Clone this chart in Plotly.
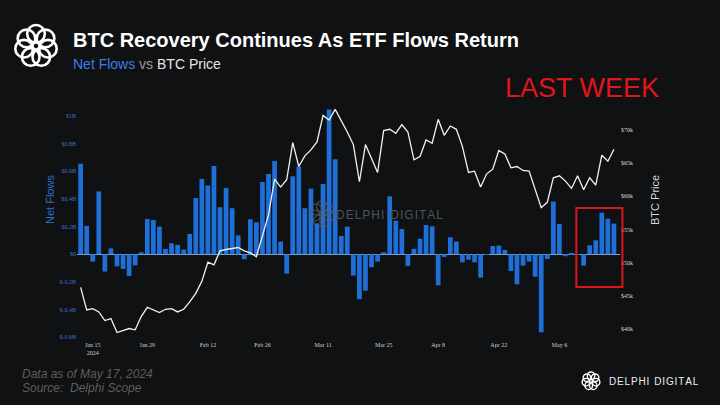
import math
import pandas as pd
import plotly.graph_objects as go

# ---------------------------------------------------------------------------
# Data: daily spot BTC ETF net flows ($B) and BTC close ($k), trading days
# Jan 11 2024 -> May 17 2024
# ---------------------------------------------------------------------------
holidays = ["2024-01-15", "2024-02-19", "2024-03-29"]
dates = [d for d in pd.bdate_range("2024-01-11", "2024-05-17").strftime("%Y-%m-%d")
         if d not in holidays]

net_flows = [0.655, 0.205, -0.053, 0.455, -0.125, 0.043, -0.087, -0.106, -0.157, -0.080,
             0.015, 0.255, 0.248, 0.200, 0.039, 0.080, 0.068, 0.034, 0.147, 0.407,
             0.545, 0.497, 0.639, 0.340, 0.480, 0.333, 0.137, -0.036, 0.253, 0.231,
             0.523, 0.581, 0.675, 0.092, -0.140, 0.564, 0.634, 0.333, 0.475, 0.224,
             0.508, 1.048, 0.687, 0.133, 0.200, -0.154, -0.325, -0.263, -0.094, -0.053,
             0.015, 0.419, 0.243, 0.183, -0.084, 0.039, 0.113, 0.212, 0.202, -0.224,
             -0.019, 0.123, 0.092, -0.058, -0.039, -0.058, -0.169, 0.002, 0.060, 0.063,
             0.031, -0.121, -0.217, -0.082, -0.053, -0.162, -0.564, -0.034, 0.381, 0.219,
             -0.014, 0.010, -0.005, -0.082, 0.065, 0.101, 0.301, 0.258, 0.222]

btc_price = [46.3, 42.9, 43.1, 42.6, 41.3, 41.6, 39.5, 39.8, 40.1, 39.9,
             41.9, 43.3, 42.9, 42.5, 43.0, 43.1, 42.6, 43.0, 44.1, 45.4,
             47.2, 50.1, 49.7, 51.8, 52.0, 52.1, 52.3, 51.8, 51.5, 50.9,
             54.2, 57.2, 62.6, 61.4, 62.5, 68.1, 64.5, 66.1, 67.0, 68.2,
             72.2, 71.5, 73.1, 71.5, 69.7, 67.8, 62.2, 67.8, 65.7, 63.6,
             69.9, 70.1, 69.5, 70.8, 69.7, 65.5, 66.0, 68.5, 68.0, 71.6,
             69.2, 70.6, 70.1, 67.5, 63.6, 63.8, 61.4, 63.4, 64.1, 66.9,
             66.4, 64.3, 64.5, 63.9, 63.8, 61.2, 58.3, 59.1, 62.8, 63.1,
             62.3, 61.2, 63.1, 61.0, 62.8, 61.7, 66.2, 65.3, 67.1]

x_tick_dates = ["2024-01-16", "2024-01-29", "2024-02-12", "2024-02-26", "2024-03-11",
                "2024-03-25", "2024-04-08", "2024-04-22", "2024-05-06"]
x_tick_text = ["Jan 15<br>2024", "Jan 29", "Feb 12", "Feb 26", "Mar 11",
               "Mar 25", "Apr 8", "Apr 22", "May 6"]

flow_ticks = [-0.6, -0.4, -0.2, 0, 0.2, 0.4, 0.6, 0.8, 1.0]
flow_tick_text = ["$-0.6B", "$-0.4B", "$-0.2B", "$0", "$0.2B", "$0.4B", "$0.6B", "$0.8B", "$1B"]
price_ticks = [40, 45, 50, 55, 60, 65, 70]
price_tick_text = ["$%dk" % p for p in price_ticks]

# ---------------------------------------------------------------------------
W, H = 720, 405
ML, MR, MT, MB = 77, 100, 108, 65
XMIN, XMAX = -0.6, 89.0
BG = "#0f1113"
BLUE = "#1f6fd8"

fig = go.Figure()

fig.add_trace(go.Bar(x=dates, y=net_flows, name="Net Flows",
                     marker=dict(color=BLUE, line=dict(width=0))))
fig.add_trace(go.Scatter(x=dates, y=btc_price, name="BTC Price", yaxis="y2",
                         mode="lines", line=dict(color="#f2f2f2", width=1.3)))


def px_to_paper(px, py):
    # pixel position on the page -> paper coords
    return (px - ML) / (W - ML - MR), (H - py - MB) / (H - MT - MB)


def logo(cx, cy, r, color, width, opacity=1.0):
    # Delphi-style ring of interlocking loops
    ax, ay = px_to_paper(cx, cy)
    n = 7
    for k in range(n):
        a = 2 * math.pi * k / n + math.pi / 2
        ox, oy = 0.58 * r * math.cos(a), 0.58 * r * math.sin(a)
        rr = 0.42 * r
        fig.add_shape(type="circle", xref="paper", yref="paper",
                      xsizemode="pixel", ysizemode="pixel", xanchor=ax, yanchor=ay,
                      x0=ox - rr, x1=ox + rr, y0=oy - rr, y1=oy + rr,
                      line=dict(color=color, width=width), opacity=opacity, layer="above")


logo(36, 46, 21, "#ffffff", 2.6)
logo(591, 381, 9, "#ffffff", 1.4)
logo(322, 214, 13, "#5a6470", 1.4, opacity=0.6)

# red "last week" box, spans the final week of flows
n_last = len(dates) - 1
bx0 = (n_last - 6.2 - XMIN) / (XMAX - XMIN)
bx1 = (n_last + 1.4 - XMIN) / (XMAX - XMIN)
fig.add_shape(type="rect", xref="paper", yref="y", x0=bx0, x1=bx1, y0=-0.236, y1=0.335,
              line=dict(color="#d9161c", width=2), layer="above")

brand = "\u200a".join("DELPHI") + "\u2002" + "\u200a".join("DIGITAL")

font_main = "Arial, Liberation Sans, sans-serif"
ann = [
    dict(text="<b>BTC Recovery Continues As ETF Flows Return</b>", px=71, py=40,
         size=20, color="#ffffff", xanchor="left"),
    dict(text="<span style='color:#3d7fe6'>Net Flows</span>"
              "<span style='color:#9a9a9a'> vs </span>"
              "<span style='color:#e6e6e6'>BTC Price</span>", px=71, py=64,
         size=14, color="#e6e6e6", xanchor="left"),
    dict(text="LAST WEEK", px=582, py=88, size=27, color="#e0161c", xanchor="center"),
    dict(text="<i>Data as of May 17, 2024</i>", px=20, py=374, size=12,
         color="#5e5e5e", xanchor="left"),
    dict(text="<i>Source:  Delphi Scope</i>", px=20, py=388, size=12,
         color="#5e5e5e", xanchor="left"),
    dict(text=brand, px=607, py=381, size=10, color="#f0f0f0", xanchor="left"),
    dict(text=brand, px=334, py=215, size=12, color="#4e545c", xanchor="left"),
]
for a in ann:
    x, y = px_to_paper(a["px"], a["py"])
    fig.add_annotation(text=a["text"], x=x, y=y, xref="paper", yref="paper",
                       xanchor=a["xanchor"], yanchor="middle", showarrow=False,
                       font=dict(family=font_main, size=a["size"], color=a["color"]))

for txt, px, col in [("Net Flows", 50, "#2f6fd0"), ("BTC Price", 655, "#d8d8d8")]:
    x, y = px_to_paper(px, 200)
    fig.add_annotation(text=txt, x=x, y=y, xref="paper", yref="paper", textangle=-90,
                       showarrow=False, xanchor="center", yanchor="middle",
                       font=dict(family=font_main, size=11, color=col))

tick_font = dict(family="Liberation Serif, serif", size=6)

fig.update_layout(
    width=W, height=H,
    margin=dict(l=ML, r=MR, t=MT, b=MB),
    paper_bgcolor=BG, plot_bgcolor=BG,
    showlegend=False,
    bargap=0.22,
    xaxis=dict(type="category", range=[XMIN, XMAX], showgrid=False, zeroline=False,
               showline=False, ticks="", tickvals=x_tick_dates, ticktext=x_tick_text,
               tickangle=0, tickfont=dict(tick_font, color="#d0d0d0")),
    yaxis=dict(range=[-0.620, 1.058], showgrid=False, zeroline=True,
               zerolinecolor="#8fa8cc", zerolinewidth=1, showline=False, ticks="",
               tickvals=flow_ticks, ticktext=flow_tick_text,
               tickfont=dict(tick_font, color="#3a74d0")),
    yaxis2=dict(range=[38.37, 73.31], overlaying="y", side="right", showgrid=False,
                zeroline=False, showline=False, ticks="",
                tickvals=price_ticks, ticktext=price_tick_text,
                tickfont=dict(tick_font, color="#d8d8d8")),
)

# page has a default 8px body margin; drop it so the figure sits at the window corner
fig.write_html("out.html", config={"displayModeBar": False},
               post_script="document.body.style.margin='0';document.body.style.background='%s';" % BG)
